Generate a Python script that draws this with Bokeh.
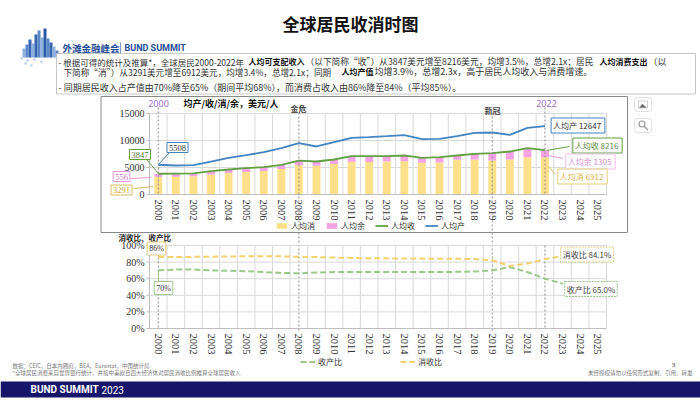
import numpy as np
from bokeh.plotting import figure
from bokeh.models import (Range1d, Label, BoxAnnotation, Legend, LegendItem,
                          ColumnDataSource, PolyAnnotation)
from bokeh.core.properties import value
from bokeh.embed import file_html
from bokeh.resources import INLINE

# ---------------- data ----------------
years = list(range(2000, 2023))
output_pc = [5508, 5370, 5430, 6110, 6790, 7280, 7840, 8580, 9510, 8890, 9690, 10490,
             10620, 10800, 10990, 10250, 10310, 10800, 11420, 11480, 11050, 12350, 12647]
income_pc = [3847, 3850, 3900, 4320, 4630, 4880, 5060, 5490, 6290, 6110, 6480, 7100,
             7100, 7100, 7220, 6790, 6910, 7220, 7530, 7650, 7960, 8580, 8216]
consume_pc = [3291, 3310, 3360, 3720, 3980, 4180, 4360, 4740, 5430, 5310, 5630, 6050,
              6000, 6110, 6170, 5870, 5920, 6420, 6480, 6290, 6480, 6910, 6912]
surplus_pc = [556, 540, 540, 600, 650, 700, 700, 750, 860, 800, 850, 1050,
              1100, 990, 1050, 920, 990, 800, 1050, 1360, 1480, 1670, 1305]

ratio_years = list(range(2000, 2024))
cons_income_ratio = [86, 86, 86.3, 86.5, 86.8, 87, 87, 87, 86.3, 86, 85.5, 85, 84.5, 84.5,
                     84.3, 84.2, 84, 84, 83.6, 82.3, 75.4, 78.3, 83.5, 87.5]
income_output_ratio = [70, 71, 71, 70, 69.5, 69, 68, 67, 66.5, 67.5, 68, 68, 68, 68, 68,
                       68, 68, 68.3, 68.7, 70, 74, 68, 60, 54]

tick_years = list(range(2000, 2026))
y1_ticks = [0, 5000, 10000, 15000]
y2_ticks = [0, 20, 40, 60, 80, 100]
edge_years = [2000, 2022]
event_years = [2008, 2019]

# ---------------- styles ----------------
CJK = "Noto Sans CJK SC"
SERIF = "Liberation Serif"
C_CONS = "#FFE08A"
C_SURP = "#F4A3E3"
C_INC = "#62A043"
C_OUT = "#4384C3"
C_R1 = "#F2D270"
C_R2 = "#9DC88A"
GRID = "#d9d9d9"
AXIS = "#bfbfbf"

# page geometry in reference pixels (the Bokeh page has no body margin)
PX0, PX1, PY0, PY1 = 0, 700, 0, 400
FL, FR = 149, 606           # plot area left/right for both charts
F1T, F1B = 113, 194         # chart 1 plot area top/bottom
F2T, F2B = 245, 328         # chart 2 plot area top/bottom
Y1MAX, Y2MAX = 15000.0, 100.0


def yr_of(px):
    return 1999.5 + (px - FL) * 26.0 / (FR - FL)


def v1_of(py):
    return (F1B - py) * Y1MAX / (F1B - F1T)


def v2_of(py):
    return (F2B - py) * Y2MAX / (F2B - F2T)


p = figure(width=PX1 - PX0, height=PY1 - PY0, x_range=Range1d(PX0, PX1),
           y_range=Range1d(PY1, PY0), x_axis_location=None, y_axis_location=None,
           toolbar_location=None, output_backend="svg", min_border=0, title=None)
p.grid.visible = False
p.outline_line_color = None
p.background_fill_color = "white"
p.border_fill_color = "white"
p.extra_x_ranges = {"yr": Range1d(yr_of(PX0), yr_of(PX1))}
p.extra_y_ranges = {"v1": Range1d(v1_of(PY1), v1_of(PY0)),
                    "v2": Range1d(v2_of(PY1), v2_of(PY0))}


def txt(x, y, s, size, color="#333", font=CJK, style="normal", align="left", **kw):
    p.text(x=[x], y=[y], text=[s], text_font=value(font), text_font_size=size,
           text_font_style=style, text_color=color, text_align=align,
           text_baseline="middle", **kw)


def seg(xa, ya, xb, yb, color, width=1, dash="solid"):
    p.segment(x0=[xa], y0=[ya], x1=[xb], y1=[yb], line_color=color, line_width=width,
              line_dash=dash)


def callout(xr, yr, s, border, tcolor, font=SERIF, size="8.5px", dash="solid"):
    p.add_layout(Label(x=xr, y=yr, text=s, text_align="center", text_baseline="middle",
                       text_font=font, text_font_size=size, text_color=tcolor,
                       border_line_color=border, border_line_width=1, border_line_dash=dash,
                       background_fill_color="white", padding=2))


# ================= header =================
txt(350, 23, "全球居民收消时图", "17px", "#111", style="bold", align="center")
sky_l = [22, 25, 28, 31, 34, 37, 40, 43, 46, 49, 52, 55]
sky_t = [48, 44, 39, 43, 34, 30, 37, 28, 38, 42, 46, 50]
sky_c = ["#8AAEDD", "#5B86C8", "#3565B0", "#8AAEDD", "#3565B0", "#5B86C8",
         "#8AAEDD", "#2B5BA8", "#5B86C8", "#3565B0", "#8AAEDD", "#5B86C8"]
p.quad(left=sky_l, right=[v + 3 for v in sky_l], top=sky_t, bottom=[57] * len(sky_l),
       color=sky_c, line_color=None)
p.quad(left=[20, 26, 33, 40, 24, 30], right=[22, 28, 35, 42, 26, 32],
       top=[57, 59, 58, 60, 62, 64], bottom=[59, 61, 60, 62, 64, 66],
       color="#A9C4EA", line_color=None)
txt(62, 47.5, "外滩金融峰会", "9.5px", "#1F4E9A", style="bold")
seg(120, 42, 120, 53, "#7f95bd")
txt(124, 47.5, "BUND SUMMIT", "9px", "#1F4E9A", font="Roboto", style="bold")

p.quad(left=[56], right=[695], top=[53], bottom=[93.5], fill_color="white",
       line_color="#b8b8b8", line_width=0.8)
TC = "#333"
L1, L2, L3 = 61, 71, 87
txt(58, L1, "- 根据可得的统计及推算*，全球居民2000-2022年", "8.5px", TC)
txt(248, L1, "人均可支配收入", "8px", "#111", style="bold")
txt(305, L1, "（以下简称“收”）从3847美元增至8216美元，均增3.5%，总增2.1x；居民", "8.7px", TC)
txt(599, L1, "人均消费支出", "8px", "#111", style="bold")
txt(648, L1, "（以", "9px", TC)
txt(63, L2, "下简称“消”）从3291美元增至6912美元，均增3.4%，总增2.1x；同期", "8.6px", TC)
txt(341, L2, "人均产值", "8px", "#111", style="bold")
txt(374, L2, "均增3.9%，总增2.3x，高于居民人均收入与消费增速。", "9px", TC)
txt(58, L3, "- 同期居民收入占产值由70%降至65%（期间平均68%），而消费占收入由86%降至84%（平均85%）。", "9px", TC)

# ================= chart 1 =================
p.quad(left=[100.5], right=[627], top=[96], bottom=[232], fill_color=None,
       line_color="#8a8a8a", line_width=1)
bounds = [t - 0.5 for t in tick_years] + [tick_years[-1] + 0.5]
p.segment(x0=[FL] * len(y1_ticks), x1=[FR] * len(y1_ticks), y0=y1_ticks, y1=y1_ticks,
          y_range_name="v1", line_color=GRID, line_width=1)
p.segment(x0=bounds, x1=bounds, y0=[0] * len(bounds), y1=[Y1MAX] * len(bounds),
          x_range_name="yr", y_range_name="v1", line_color=GRID, line_width=1)
src1 = ColumnDataSource(dict(year=years, consume=consume_pc, surplus=surplus_pc,
                             income=income_pc, output=output_pc))
bars = p.vbar_stack(["consume", "surplus"], x="year", width=0.45, color=[C_CONS, C_SURP],
                    line_color=None, source=src1, x_range_name="yr", y_range_name="v1")
r_inc = p.line("year", "income", source=src1, line_color=C_INC, line_width=1.8,
               x_range_name="yr", y_range_name="v1")
r_out = p.line("year", "output", source=src1, line_color=C_OUT, line_width=1.8,
               x_range_name="yr", y_range_name="v1")
seg(FL, F1T, FL, F1B, AXIS)
seg(FL, F1B, FR, F1B, AXIS)
p.segment(x0=[FL - 3] * len(y1_ticks), x1=[FL] * len(y1_ticks), y0=y1_ticks, y1=y1_ticks,
          y_range_name="v1", line_color=AXIS)
p.text(x=[FL - 5] * len(y1_ticks), y=y1_ticks, text=[str(v) for v in y1_ticks],
       y_range_name="v1", text_font=value(SERIF), text_font_size="10px", text_color="#333",
       text_align="right", text_baseline="middle")
p.text(x=tick_years, y=[0] * len(tick_years), text=[str(v) for v in tick_years],
       x_range_name="yr", y_range_name="v1", angle=-np.pi / 2, y_offset=5,
       text_font=value(SERIF), text_font_size="10.5px", text_color="#333",
       text_align="left", text_baseline="middle")
p.segment(x0=edge_years, x1=edge_years, y0=[107] * 2, y1=[F1B] * 2, x_range_name="yr",
          line_color="#8c8c8c", line_dash="2 2")
p.segment(x0=event_years, x1=event_years, y0=[112] * 2, y1=[F2B + 2] * 2, x_range_name="yr",
          line_color="#8c8c8c", line_dash="2 2")

txt(158, 103, "2000", "9px", "#9B6FCB", font="Noto Sans", align="center")
txt(546, 103, "2022", "9px", "#9B6FCB", font="Noto Sans", align="center")
txt(183, 103, "均产/收/消/余，美元/人", "9px", "#111", style="bold")
txt(298, 107.5, "金危", "8px", "#444", style="bold", align="center")
txt(492, 110, "新冠", "8px", "#444", style="bold", align="center")

seg(169, 152, 158, 164, C_OUT)
seg(146, 159, 158, 173, C_INC)
seg(130, 178, 150, 177, "#E89AD8")
seg(133, 188, 153, 186, "#D9BC62")
seg(569, 146, 546, 150, C_INC)
seg(563, 158, 548, 155, "#E89AD8")
seg(555, 174, 548, 166, "#D9BC62")
callout(177, 147, "5508", C_OUT, "#333")
callout(139.5, 154, "3847", C_INC, "#4E7A38")
callout(121, 176, "556", "#E89AD8", "#D77CC8")
callout(121, 189.5, "3291", "#D9BC62", "#D4A32A")
callout(577.5, 125, "人均产  12647", C_OUT, "#333", font=CJK, size="8px")
callout(597, 145, "人均收  8216", C_INC, "#5E8A45", font=CJK, size="8px")
callout(590, 161, "人均余  1305", "#F0C0EA", "#D98BD0", font=CJK, size="8px")
callout(582, 176, "人均消  6912", "#E3CB78", "#D9B24A", font=CJK, size="8px")

# viewer icons on the right
for top, bot in [(97, 111), (118, 132)]:
    p.add_layout(BoxAnnotation(left=634, right=651, top=top, bottom=bot,
                               fill_color="white", line_color="#9a9a9a", line_width=1,
                               border_radius=3))
p.add_layout(BoxAnnotation(left=638, right=647, top=100.5, bottom=107.5,
                           fill_color=None, line_color="#666", line_width=1))
p.add_layout(PolyAnnotation(xs=[639, 642, 644, 646], ys=[107, 103.5, 105.5, 107],
                            fill_color="#666", fill_alpha=1, line_color="#666"))
p.circle(x=[641.5], y=[123.5], radius=3, fill_color=None, line_color="#555", line_width=1.2)
seg(643.8, 125.8, 647.5, 129.5, "#555", width=1.3)

leg1 = Legend(items=[LegendItem(label="人均消", renderers=[bars[0]]),
                     LegendItem(label="人均余", renderers=[bars[1]]),
                     LegendItem(label="人均收", renderers=[r_inc]),
                     LegendItem(label="人均产", renderers=[r_out])],
              location=(275 - PX0, PY1 - 231), orientation="horizontal",
              background_fill_alpha=0, border_line_color=None, label_text_font=CJK,
              label_text_font_size="8px", label_text_color="#333", glyph_width=13,
              glyph_height=7, label_height=10, label_width=10, spacing=10, padding=0,
              margin=0, label_standoff=3)
p.add_layout(leg1)

# ================= chart 2 =================
p.segment(x0=[FL] * len(y2_ticks), x1=[FR] * len(y2_ticks), y0=y2_ticks, y1=y2_ticks,
          y_range_name="v2", line_color=GRID, line_width=1)
p.segment(x0=bounds, x1=bounds, y0=[0] * len(bounds), y1=[Y2MAX] * len(bounds),
          x_range_name="yr", y_range_name="v2", line_color=GRID, line_width=1)
p.segment(x0=edge_years, x1=edge_years, y0=[F2T] * 2, y1=[F2B] * 2, x_range_name="yr",
          line_color="#8c8c8c", line_dash="2 2")
src2 = ColumnDataSource(dict(year=ratio_years, ci=cons_income_ratio, io=income_output_ratio))
r_io = p.line("year", "io", source=src2, line_color=C_R2, line_width=2, line_dash="6 3",
              x_range_name="yr", y_range_name="v2")
r_ci = p.line("year", "ci", source=src2, line_color=C_R1, line_width=2, line_dash="6 3",
              x_range_name="yr", y_range_name="v2")
seg(FL, F2T, FL, F2B, AXIS)
seg(FL, F2B, FR, F2B, AXIS)
p.segment(x0=[FL - 3] * len(y2_ticks), x1=[FL] * len(y2_ticks), y0=y2_ticks, y1=y2_ticks,
          y_range_name="v2", line_color=AXIS)
p.text(x=[FL - 5] * len(y2_ticks), y=y2_ticks, text=[f"{v}%" for v in y2_ticks],
       y_range_name="v2", text_font=value(SERIF), text_font_size="10px", text_color="#333",
       text_align="right", text_baseline="middle")
p.text(x=tick_years, y=[0] * len(tick_years), text=[str(v) for v in tick_years],
       x_range_name="yr", y_range_name="v2", angle=-np.pi / 2, y_offset=5,
       text_font=value(SERIF), text_font_size="10.5px", text_color="#333",
       text_align="left", text_baseline="middle")

txt(118, 236.5, "消收比、收产比", "7.5px", "#222", style="bold")
seg(158, 253, 158, 257, "#E3CB78")
seg(158, 270, 158, 282, C_R2)
callout(156, 248, "86%", "#E3CB78", "#333", size="8px")
callout(163, 287.5, "70%", C_R2, "#333", size="8px")
callout(586.5, 254, "消收比 84.1%", "#E3CB78", "#444", font=CJK, size="8px", dash="2 1")
callout(590.5, 288.5, "收产比 65.0%", C_R2, "#444", font=CJK, size="8px", dash="2 1")

leg2 = Legend(items=[LegendItem(label="收产比", renderers=[r_io]),
                     LegendItem(label="消收比", renderers=[r_ci])],
              location=(300 - PX0, PY1 - 367), orientation="horizontal",
              background_fill_alpha=0, border_line_color=None, label_text_font=CJK,
              label_text_font_size="8px", label_text_color="#333", glyph_width=15,
              glyph_height=7, label_height=10, label_width=10, spacing=58, padding=0,
              margin=0, label_standoff=3)
p.add_layout(leg2)

# ================= footer =================
txt(12, 365, "数据：CEIC，日本内阁府，BEA，Eurostat，中国统计局", "5.5px", "#777")
txt(12, 372, "*全球居民消费来自世界银行统计，并按中美欧日四大经济体对居民消收比例推算全球居民收入", "5.5px", "#777")
txt(673, 364, "3", "7px", "#333", font=SERIF, align="center")
txt(692, 372, "未经授权请勿以任何形式复制、引用、转发", "5.5px", "#777", align="right")
p.quad(left=[PX0], right=[PX1], top=[381], bottom=[397], color="#17156A", line_color=None)
txt(30, 389, "BUND SUMMIT", "10px", "white", font="Roboto", style="bold")
txt(101, 389, "2023", "10px", "white", font="Roboto")

open("out.html", "w").write(file_html(p, INLINE))
